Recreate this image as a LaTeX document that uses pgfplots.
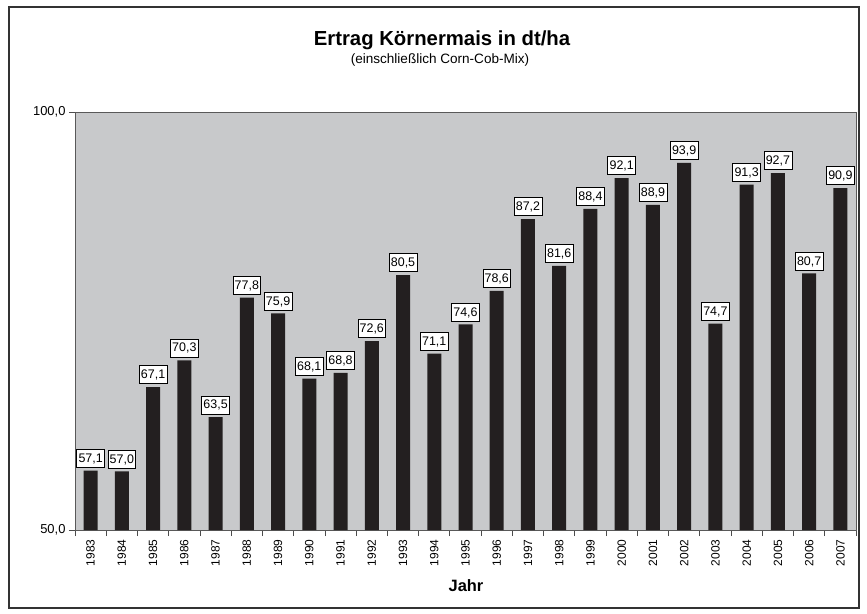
\documentclass[border=0pt]{standalone}
\usepackage{pgfplots}
\pgfplotsset{compat=1.18}
\usepackage{fontspec}
\setmainfont{Liberation Sans}
\definecolor{plotbg}{HTML}{C8C9CB}
\definecolor{barcol}{HTML}{231F20}

\begin{document}
\begin{tikzpicture}
  \useasboundingbox (-75bp,-84bp) rectangle (792bp,530bp);
  \begin{axis}[
    at={(0,0)}, anchor=south west,
    scale only axis,
    width=781bp, height=418bp,
    xmin=-0.5, xmax=24.5,
    ymin=50, ymax=100,
    ybar, bar width=14bp,
    axis background/.style={fill=plotbg},
    axis line style={draw=black!65},
    xtick={0,...,24},
    xticklabels={1983,1984,1985,1986,1987,1988,1989,1990,1991,1992,1993,1994,1995,1996,1997,1998,1999,2000,2001,2002,2003,2004,2005,2006,2007},
    major x tick style={draw=none},
    minor xtick={-0.5,0.5,...,24.5},
    minor tick length=6bp,
    xticklabel style={rotate=90, anchor=east, font=\fontsize{12}{12}\selectfont},
    ytick={50,100},
    major tick length=6bp,
    tick align=outside,
    xtick pos=bottom, ytick pos=left,
    tick style={draw=black!70, line width=0.8bp},
    yticklabel style={font=\fontsize{13}{13}\selectfont},
    /pgf/number format/.cd, fixed, fixed zerofill, precision=1, use comma, assume math mode=true,
    /pgfplots/.cd,
    nodes near coords,
    nodes near coords style={
      anchor=south, yshift=3bp, fill=white, draw=black, line width=0.6bp,
      font=\fontsize{12.5}{12.5}\selectfont, inner xsep=1.8bp, inner ysep=4bp,
      text height=9bp, text depth=1bp,
      /pgf/number format/.cd, fixed, fixed zerofill, precision=1, use comma, assume math mode=true
    },
  ]
    \addplot[fill=barcol, draw=none] coordinates {
      (0,57.1) (1,57.0) (2,67.1) (3,70.3) (4,63.5) (5,77.8) (6,75.9) (7,68.1)
      (8,68.8) (9,72.6) (10,80.5) (11,71.1) (12,74.6) (13,78.6) (14,87.2)
      (15,81.6) (16,88.4) (17,92.1) (18,88.9) (19,93.9) (20,74.7) (21,91.3)
      (22,92.7) (23,80.7) (24,90.9)};
  \end{axis}
  \draw[black!80, line width=1.2bp] (-66bp,-78bp) rectangle (784bp,523bp);
  \node[font=\fontsize{20.4}{20.4}\selectfont\bfseries, anchor=base] at (367bp,484bp) {Ertrag Körnermais in dt/ha};
  \node[font=\fontsize{13.6}{13.6}\selectfont, anchor=base] at (365bp,466bp) {(einschließlich Corn-Cob-Mix)};
  \node[font=\fontsize{16.5}{16.5}\selectfont\bfseries, anchor=base] at (391bp,-61bp) {Jahr};
\end{tikzpicture}
\end{document}
